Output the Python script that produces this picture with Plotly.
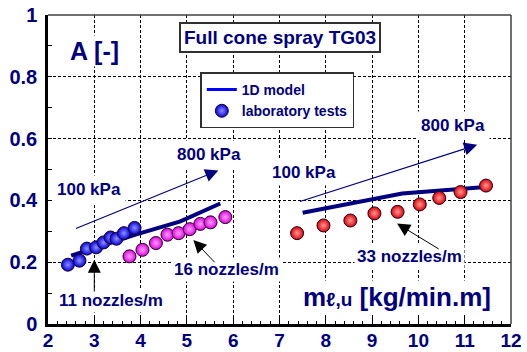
import plotly.graph_objects as go

# Laboratory tests, specific flow rate m_l,u [kg/min.m] vs. coefficient A [-]
x_11 = [2.43, 2.68, 2.84, 3.04, 3.20, 3.35, 3.48, 3.64, 3.87]
a_11 = [0.192, 0.205, 0.244, 0.248, 0.264, 0.280, 0.276, 0.294, 0.311]

x_16 = [3.76, 4.04, 4.33, 4.58, 4.82, 5.06, 5.29, 5.51, 5.83]
a_16 = [0.219, 0.240, 0.262, 0.289, 0.294, 0.307, 0.324, 0.329, 0.346]

x_33 = [7.38, 7.95, 8.53, 9.05, 9.55, 10.03, 10.45, 10.91, 11.46]
a_33 = [0.294, 0.319, 0.335, 0.358, 0.363, 0.387, 0.408, 0.427, 0.448]

# 1D model curves
x_model_a = [2.50, 3.00, 3.89, 4.86, 5.72]
a_model_a = [0.221, 0.245, 0.289, 0.332, 0.390]
x_model_b = [7.50, 9.65, 11.45]
a_model_b = [0.360, 0.422, 0.443]

x_ticks = [2, 3, 4, 5, 6, 7, 8, 9, 10, 11, 12]
y_ticks = [0, 0.2, 0.4, 0.6, 0.8, 1]

NAVY = "#000080"
FONT = "Liberation Sans, Arial, sans-serif"


def spheres(x, y, color, glow):
    return go.Scatter(
        x=x, y=y, mode="markers", showlegend=False, hoverinfo="skip",
        marker=dict(size=13, color=color,
                    gradient=dict(type="radial", color=glow),
                    line=dict(color="#200020", width=1)),
    )


fig = go.Figure()

for xm, am in [(x_model_a, a_model_a), (x_model_b, a_model_b)]:
    fig.add_trace(go.Scatter(x=xm, y=am, mode="lines", showlegend=False,
                             line=dict(color=NAVY, width=4), hoverinfo="skip"))

fig.add_trace(spheres(x_11, a_11, "#0000e0", "#9090ff"))
fig.add_trace(spheres(x_16, a_16, "#e000e0", "#ffa0ff"))
fig.add_trace(spheres(x_33, a_33, "#e00000", "#ff9a9a"))

# legend entries
fig.add_trace(go.Scatter(x=[None], y=[None], mode="lines", name="1D model",
                         line=dict(color="#0000ff", width=3)))
fig.add_trace(go.Scatter(x=[None], y=[None], mode="markers", name="laboratory tests",
                         marker=dict(size=13, color="#0000e0",
                                     gradient=dict(type="radial", color="#9090ff"),
                                     line=dict(color="#200020", width=1))))


def label(x, y, text, size=17, **kw):
    fig.add_annotation(x=x, y=y, text=text, showarrow=False, bgcolor="white",
                       font=dict(family=FONT, size=size, color=NAVY, weight="bold"), **kw)


def arrow(x_tip, y_tip, x_tail, y_tail, color, width, size):
    fig.add_annotation(x=x_tip, y=y_tip, ax=x_tail, ay=y_tail, axref="x", ayref="y",
                       text="", showarrow=True, arrowhead=2, arrowsize=size,
                       arrowwidth=width, arrowcolor=color, standoff=0, startstandoff=0)


label(3.0, 0.885, "A [-]", size=25)
label(2.876, 0.435, "100 kPa", borderpad=4)
label(5.47, 0.548, "800 kPa", borderpad=4)
label(7.52, 0.490, "100 kPa", borderpad=3)
label(10.75, 0.642, "800 kPa", borderpad=4)
label(3.37, 0.075, "11 nozzles/m", borderpad=2)
label(5.855, 0.176, "16 nozzles/m", borderpad=2)
label(9.81, 0.217, "33 nozzles/m", borderpad=2)
label(9.53, 0.086, "m<span style='font-size:19px'>ℓ,u</span> [kg/min.m]", size=26)

fig.add_annotation(x=7.02, y=0.927, text="Full cone spray TG03", showarrow=False,
                   bgcolor="white", bordercolor="#303030", borderwidth=2, borderpad=3,
                   font=dict(family=FONT, size=19, color=NAVY, weight="bold"))

arrow(5.68, 0.497, 2.57, 0.307, NAVY, 1.2, 2.2)
arrow(11.27, 0.580, 7.41, 0.395, NAVY, 1.2, 2.2)
arrow(3.0, 0.208, 3.0, 0.100, "black", 1, 2.6)
arrow(5.14, 0.272, 5.63, 0.195, "black", 1, 2.6)
arrow(9.54, 0.325, 10.47, 0.240, "black", 1, 2.6)

# thin top and right frame lines
fig.add_shape(type="line", xref="paper", yref="paper", x0=0, x1=1, y0=1, y1=1,
              line=dict(color="#404040", width=1.5))
fig.add_shape(type="line", xref="paper", yref="paper", x0=1, x1=1, y0=0, y1=1,
              line=dict(color="#404040", width=1.5))

tick_font = dict(family=FONT, size=20, color=NAVY, weight="bold")
fig.update_xaxes(range=[2, 12], tickvals=x_ticks, ticktext=[str(v) for v in x_ticks],
                 showline=True, linecolor="black", linewidth=2.5,
                 ticks="inside", ticklen=6, tickcolor="black", tickwidth=1,
                 minor=dict(dtick=0.2, ticks="inside", ticklen=3, tickcolor="black",
                            showgrid=False),
                 showgrid=True, gridcolor="black", gridwidth=1, griddash="3px,2px",
                 zeroline=False, tickfont=dict(family=FONT, size=19, color=NAVY, weight="bold"),
                 fixedrange=True, automargin=False, ticklabelstandoff=-3)
fig.update_yaxes(range=[0, 1], tickvals=y_ticks, ticktext=["0", "0.2", "0.4", "0.6", "0.8", "1"],
                 showline=True, linecolor="black", linewidth=2.5,
                 ticks="inside", ticklen=4, tickcolor="black", tickwidth=1,
                 minor=dict(dtick=0.1, ticks="inside", ticklen=4, tickcolor="black",
                            showgrid=False),
                 showgrid=True, gridcolor="black", gridwidth=1, griddash="3px,2px",
                 zeroline=False, tickfont=tick_font, fixedrange=True, automargin=False,
                 ticklabelstandoff=4)

fig.update_layout(
    width=527, height=352,
    margin=dict(l=48, r=16, t=15, b=28),
    plot_bgcolor="white", paper_bgcolor="white",
    legend=dict(x=0.329, y=0.814, xanchor="left", yanchor="top",
                bgcolor="white", bordercolor="#303030", borderwidth=1.5,
                font=dict(family=FONT, size=14, color=NAVY, weight="bold"),
                tracegroupgap=0, itemwidth=30),
)

fig.write_html("out.html", config={"displayModeBar": False})
